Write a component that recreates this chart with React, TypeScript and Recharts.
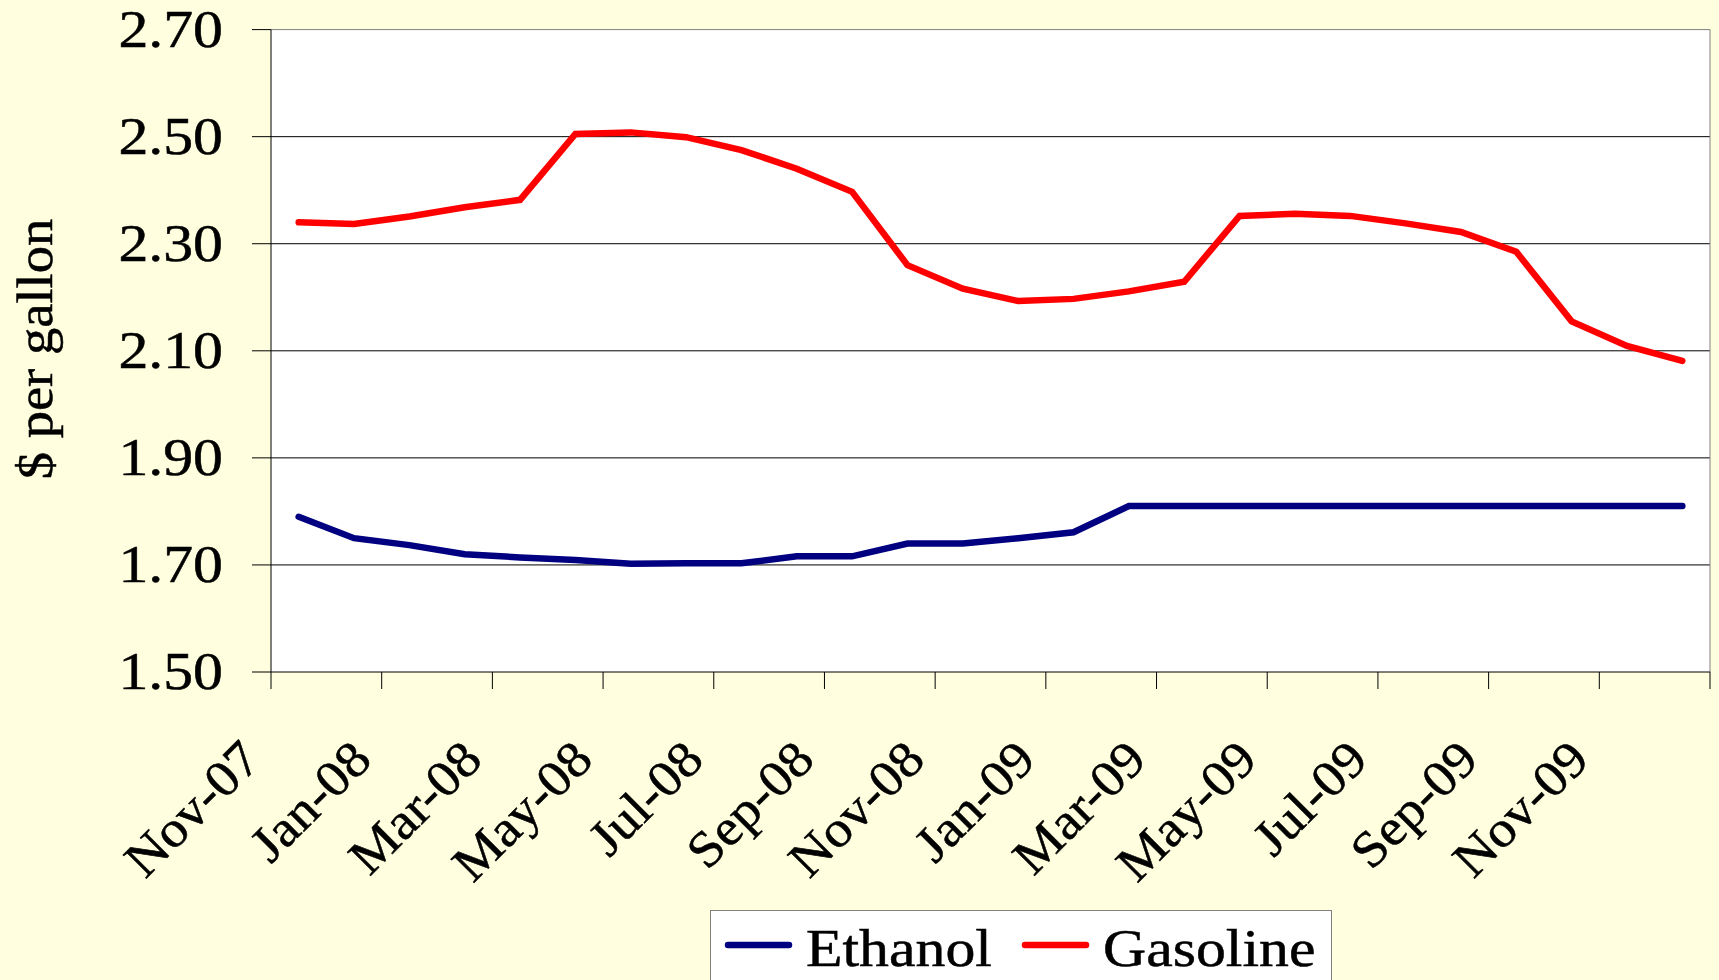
import { LineChart, Line, XAxis, YAxis, CartesianGrid, Legend, ReferenceLine, Label } from 'recharts'

const MONTHS = [
  'Nov-07', 'Dec-07', 'Jan-08', 'Feb-08', 'Mar-08', 'Apr-08', 'May-08', 'Jun-08', 'Jul-08',
  'Aug-08', 'Sep-08', 'Oct-08', 'Nov-08', 'Dec-08', 'Jan-09', 'Feb-09', 'Mar-09', 'Apr-09',
  'May-09', 'Jun-09', 'Jul-09', 'Aug-09', 'Sep-09', 'Oct-09', 'Nov-09', 'Dec-09',
]

const ETHANOL = [
  1.79, 1.75, 1.737, 1.72, 1.714, 1.709, 1.702, 1.703, 1.703, 1.716, 1.716, 1.74, 1.74,
  1.75, 1.761, 1.81, 1.81, 1.81, 1.81, 1.81, 1.81, 1.81, 1.81, 1.81, 1.81, 1.81,
]

const GASOLINE = [
  2.34, 2.337, 2.351, 2.368, 2.382, 2.505, 2.508, 2.499, 2.475, 2.44, 2.397, 2.26, 2.216,
  2.193, 2.197, 2.211, 2.229, 2.352, 2.356, 2.352, 2.338, 2.322, 2.285, 2.155, 2.109, 2.081,
]

const Y_TICKS = [1.5, 1.7, 1.9, 2.1, 2.3, 2.5, 2.7]

// category boundaries every two months, Excel style
const X_TICKS = [...MONTHS.map((_, i) => i - 0.5).filter((_, i) => i % 2 === 0), MONTHS.length - 0.5]

const data = MONTHS.map((month, i) => ({ i, month, Ethanol: ETHANOL[i], Gasoline: GASOLINE[i] }))

const FONT = '"Liberation Serif", "Times New Roman", serif'
const BG = '#FFFFE0'
const TEXT = { fontFamily: FONT, fill: '#000', stroke: '#000', strokeWidth: 0.5 }

function XTick({ x, y, payload }: any) {
  const label = MONTHS[Math.round(payload.value + 0.5)]
  if (!label) return null
  return (
    <text
      transform={`translate(${x - 8},${y + 73}) rotate(-45) scale(1.07,1)`}
      textAnchor="end"
      fontSize={51}
      {...TEXT}
    >
      {label}
    </text>
  )
}

function YTick({ x, y, payload }: any) {
  return (
    <text
      transform={`translate(${x},${y}) scale(1.15,1)`}
      textAnchor="end"
      dy="0.33em"
      fontSize={52}
      {...TEXT}
    >
      {payload.value.toFixed(2)}
    </text>
  )
}

function YTitle() {
  return (
    <text
      transform="translate(52,349) rotate(-90) scale(1.07,1)"
      textAnchor="middle"
      fontSize={51}
      {...TEXT}
    >
      $ per gallon
    </text>
  )
}

function LegendBox({ payload }: any) {
  return (
    <svg width={622} height={80} style={{ display: 'block' }}>
      <rect x={0.5} y={0.5} width={621} height={120} fill="#fff" stroke="#808080" />
      {(payload || []).map((p: any, i: number) => (
        <g key={p.value} transform={`translate(${15 + i * 297},0)`}>
          <line x1={3} x2={64} y1={35} y2={35} stroke={p.color} strokeWidth={6.5} strokeLinecap="round" />
          <text transform="translate(81,56) scale(1.15,1)" fontSize={52} {...TEXT}>
            {p.value}
          </text>
        </g>
      ))}
    </svg>
  )
}

export default function App() {
  return (
    <div style={{ position: 'absolute', left: 0, top: 0, width: 1719, height: 980, overflow: 'hidden', background: BG }}>
      <LineChart width={1719} height={980} data={data} margin={{ top: 29.6, right: 9, bottom: 0, left: 0 }}>
        <CartesianGrid vertical={false} stroke="#000" fill="#fff" horizontalValues={[1.7, 1.9, 2.1, 2.3, 2.5]} />
        <XAxis
          type="number"
          dataKey="i"
          domain={[-0.5, MONTHS.length - 0.5]}
          ticks={X_TICKS}
          interval={0}
          height={308}
          tickSize={17}
          tickMargin={0}
          axisLine={{ stroke: '#000' }}
          tickLine={{ stroke: '#000' }}
          tick={<XTick />}
        />
        <YAxis
          domain={[1.5, 2.7]}
          ticks={Y_TICKS}
          interval={0}
          width={271}
          tickSize={19}
          tickMargin={29}
          axisLine={{ stroke: '#000' }}
          tickLine={{ stroke: '#000' }}
          tick={<YTick />}
        >
          <Label content={<YTitle />} />
        </YAxis>
        <ReferenceLine y={2.7} stroke="#808080" />
        <ReferenceLine x={MONTHS.length - 0.5} stroke="#808080" />
        <Legend
          layout="horizontal"
          verticalAlign="middle"
          align="center"
          wrapperStyle={{ left: 710, top: 910, width: 622, height: 80 }}
          content={<LegendBox />}
        />
        <Line type="linear" dataKey="Ethanol" stroke="#000080" strokeWidth={6.5} strokeLinecap="round" dot={false} activeDot={false} isAnimationActive={false} />
        <Line type="linear" dataKey="Gasoline" stroke="#FF0000" strokeWidth={6.5} strokeLinecap="round" dot={false} activeDot={false} isAnimationActive={false} />
      </LineChart>
    </div>
  )
}
